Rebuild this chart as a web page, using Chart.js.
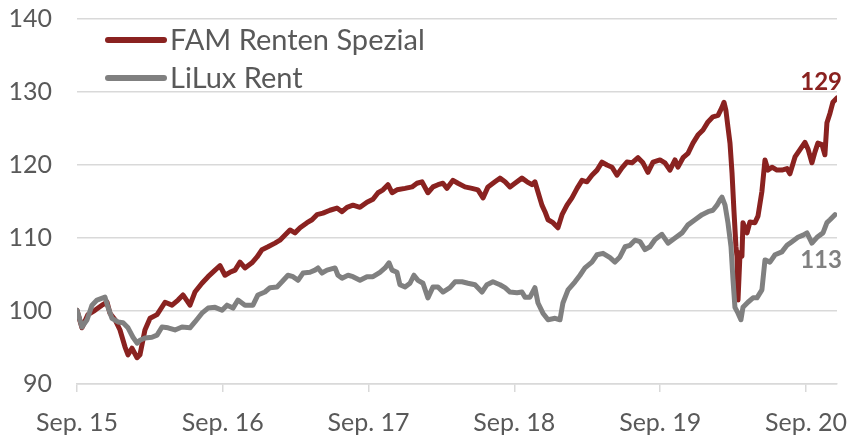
<!DOCTYPE html>
<html><head><meta charset="utf-8">
<script src="https://cdn.jsdelivr.net/npm/chart.js@4"></script>
<style>html,body{margin:0;padding:0;background:#fff}canvas{display:block}</style>
</head><body>
<canvas id="c" width="850" height="436"></canvas>
<script>
// x values: years since Sep. 2015
const seriesNames = ['FAM Renten Spezial', 'LiLux Rent'];
const tickYears = [0, 1, 2, 3, 4, 5];
const tickLabels = ['Sep. 15', 'Sep. 16', 'Sep. 17', 'Sep. 18', 'Sep. 19', 'Sep. 20'];
const endLabels = ['129', '113'];

const famX = [0,0.034,0.075,0.123,0.171,0.206,0.226,0.261,0.295,0.329,0.350,0.377,0.412,0.432,0.466,0.501,0.549,0.604,0.652,0.693,0.727,0.775,0.809,0.857,0.899,0.947,0.981,1.015,1.049,1.084,1.118,1.152,1.200,1.235,1.269,1.310,1.358,1.392,1.427,1.461,1.495,1.530,1.578,1.612,1.646,1.687,1.735,1.783,1.818,1.852,1.893,1.941,1.989,2.030,2.065,2.099,2.133,2.161,2.195,2.250,2.298,2.332,2.366,2.407,2.442,2.476,2.510,2.538,2.579,2.613,2.661,2.709,2.750,2.785,2.819,2.867,2.901,2.936,2.970,3.004,3.052,3.087,3.121,3.141,3.162,3.189,3.210,3.231,3.265,3.299,3.327,3.361,3.395,3.430,3.464,3.498,3.532,3.567,3.601,3.635,3.670,3.704,3.738,3.772,3.807,3.848,3.882,3.916,3.951,3.999,4.033,4.067,4.102,4.122,4.157,4.191,4.225,4.259,4.294,4.328,4.362,4.397,4.424,4.438,4.451,4.465,4.479,4.493,4.506,4.520,4.527,4.534,4.548,4.561,4.568,4.596,4.616,4.650,4.671,4.698,4.719,4.740,4.767,4.801,4.835,4.870,4.890,4.925,4.959,4.993,5.014,5.041,5.062,5.082,5.110,5.130,5.144,5.165,5.185,5.213];
const famY = [100.1,97.7,99.5,100.1,100.8,101.2,99.7,98.8,97.4,95.1,94.0,94.9,93.6,94.0,97.4,99.0,99.5,101.2,100.8,101.5,102.2,100.8,102.6,103.8,104.7,105.6,106.2,104.9,105.3,105.6,106.7,105.9,106.6,107.4,108.4,108.8,109.3,109.7,110.4,111.1,110.7,111.4,112.1,112.5,113.2,113.4,113.8,114.1,113.6,114.2,114.5,114.2,114.9,115.3,116.2,116.6,117.3,116.2,116.6,116.8,117.0,117.5,117.7,116.2,117.0,117.3,117.5,116.8,117.9,117.5,117.0,116.8,116.6,115.5,117.0,117.7,118.2,117.7,117.0,117.5,118.2,117.7,117.3,117.7,116.3,114.5,113.6,112.5,112.1,111.4,113.2,114.5,115.5,116.8,117.9,117.7,118.6,119.3,120.4,120.0,119.7,118.6,119.6,120.4,120.3,121.0,120.3,119.0,120.4,120.7,120.3,119.3,120.7,119.7,121.0,121.6,123.0,124.1,124.8,125.9,126.6,126.8,127.9,128.6,127.5,125.2,123.0,118.9,113.8,108.8,107.5,101.5,108.0,107.5,112.1,110.7,112.2,112.1,113.0,116.4,120.7,119.3,119.7,119.3,119.3,119.5,118.8,121.1,122.1,123.1,122.2,120.3,121.8,123.0,122.8,121.4,125.8,127.1,128.6,129.2];

const luxX = [0,0.034,0.069,0.103,0.137,0.192,0.213,0.240,0.281,0.316,0.350,0.384,0.412,0.432,0.466,0.514,0.549,0.583,0.624,0.672,0.720,0.775,0.809,0.857,0.899,0.947,0.995,1.029,1.070,1.104,1.152,1.207,1.241,1.289,1.324,1.372,1.406,1.447,1.482,1.516,1.550,1.598,1.632,1.653,1.680,1.715,1.770,1.790,1.818,1.859,1.893,1.941,1.989,2.030,2.078,2.113,2.140,2.161,2.195,2.215,2.250,2.284,2.311,2.339,2.373,2.407,2.442,2.476,2.510,2.558,2.593,2.641,2.682,2.730,2.778,2.812,2.853,2.901,2.936,2.970,3.018,3.052,3.073,3.107,3.141,3.162,3.196,3.231,3.279,3.313,3.333,3.368,3.416,3.450,3.484,3.532,3.567,3.608,3.656,3.690,3.724,3.759,3.793,3.827,3.862,3.896,3.930,3.965,4.012,4.054,4.102,4.150,4.191,4.239,4.287,4.328,4.362,4.390,4.410,4.424,4.445,4.465,4.486,4.500,4.513,4.534,4.554,4.568,4.602,4.637,4.664,4.698,4.719,4.753,4.788,4.835,4.870,4.904,4.945,4.980,5.007,5.041,5.076,5.117,5.144,5.165,5.199];
const luxY = [100.1,97.8,98.8,100.8,101.5,101.9,100.5,99.0,98.5,98.4,97.7,96.4,95.6,96.0,96.3,96.4,96.7,97.8,97.7,97.4,97.8,97.7,98.5,99.7,100.4,100.5,100.1,100.8,100.4,101.5,100.8,100.8,102.2,102.6,103.2,103.3,104.0,104.9,104.7,104.2,105.2,105.3,105.6,105.9,105.2,105.6,105.9,104.9,104.5,104.9,104.7,104.2,104.7,104.7,105.3,105.9,106.6,105.6,105.3,103.6,103.3,103.8,104.9,104.2,103.8,101.8,103.3,103.3,102.6,103.2,104.0,104.0,103.8,103.6,102.6,103.6,104.0,103.6,103.2,102.6,102.5,102.6,101.9,101.9,103.2,101.1,99.7,98.8,99.0,98.8,101.1,102.9,104.0,104.9,105.9,106.7,107.7,107.9,107.3,106.7,107.4,108.8,109.0,109.7,109.5,108.4,108.8,109.8,110.5,109.3,110.0,110.7,111.8,112.5,113.2,113.6,113.8,114.5,115.2,115.6,114.5,112.1,108.8,104.2,100.5,99.7,98.8,100.5,101.2,101.8,101.8,102.9,107.0,106.7,107.7,108.1,109.0,109.5,110.1,110.4,110.7,109.3,110.1,110.7,112.1,112.5,113.2];

const yMin = 90, yMax = 140, yStep = 10, xMax = 5.213;
const colors = ['#8a2220', '#808080'];

function pts(xs, ys) {
  const n = Math.min(xs.length, ys.length);
  const out = [];
  for (let i = 0; i < n; i++) out.push({x: xs[i], y: ys[i]});
  return out;
}

const overlay = {
  id: 'overlay',
  afterDatasetsDraw(chart) {
    const ctx = chart.ctx;
    const ca = chart.chartArea;
    ctx.save();
    const rows = [ca.top + 21, ca.top + 59];
    seriesNames.forEach((name, i) => {
      ctx.strokeStyle = colors[i];
      ctx.lineWidth = 6;
      ctx.lineCap = 'round';
      ctx.beginPath();
      ctx.moveTo(ca.left + 31, rows[i]);
      ctx.lineTo(ca.left + 87, rows[i]);
      ctx.stroke();
      ctx.fillStyle = '#595959';
      ctx.font = '29px Lato';
      ctx.textBaseline = 'middle';
      ctx.textAlign = 'left';
      ctx.fillText(name, ca.left + 93, rows[i] + 1);
    });
    const xs = chart.scales.x, ys = chart.scales.y;
    ctx.font = 'bold 24px Lato';
    ctx.textAlign = 'right';
    ctx.textBaseline = 'alphabetic';
    const lastF = famY[famY.length - 1], lastL = luxY[luxY.length - 1];
    ctx.fillStyle = colors[0];
    ctx.fillText(endLabels[0], xs.getPixelForValue(famX[famX.length - 1]) + 5, ys.getPixelForValue(lastF) - 8);
    ctx.fillStyle = colors[1];
    ctx.fillText(endLabels[1], xs.getPixelForValue(luxX[luxX.length - 1]) + 7, ys.getPixelForValue(lastL) + 53);
    ctx.restore();
  }
};

new Chart(document.getElementById('c'), {
  type: 'line',
  data: {
    datasets: [
      {label: seriesNames[1], data: pts(luxX, luxY), borderColor: colors[1], borderWidth: 5, pointRadius: 0, tension: 0, borderJoinStyle: 'round', borderCapStyle: 'round'},
      {label: seriesNames[0], data: pts(famX, famY), borderColor: colors[0], borderWidth: 5, pointRadius: 0, tension: 0, borderJoinStyle: 'round', borderCapStyle: 'round'}
    ]
  },
  options: {
    responsive: false,
    animation: false,
    devicePixelRatio: 1,
    layout: {padding: {top: 19, right: 13, left: 0, bottom: 0}},
    plugins: {legend: {display: false}, tooltip: {enabled: false}},
    scales: {
      x: {
        type: 'linear', min: 0, max: xMax,
        afterBuildTicks: s => { s.ticks = tickYears.map(v => ({value: v})); },
        afterFit: s => { s.height = 52; s.paddingLeft = 0; s.paddingRight = 0; },
        ticks: {callback: (v, i) => tickLabels[i], color: '#595959', font: {family: 'Lato', size: 25}, padding: 16, maxRotation: 0, autoSkip: false},
        grid: {drawOnChartArea: false, drawTicks: true, tickLength: 8, color: '#d9d9d9', lineWidth: 1.5},
        border: {display: true, color: '#d9d9d9', width: 1.5}
      },
      y: {
        min: yMin, max: yMax,
        afterFit: s => { s.width = 77; s.paddingTop = 0; s.paddingBottom = 0; },
        ticks: {stepSize: yStep, color: '#595959', font: {family: 'Lato', size: 25}, padding: 25},
        grid: {color: '#d9d9d9', lineWidth: 1.5, drawTicks: false},
        border: {display: false}
      }
    }
  },
  plugins: [overlay]
});
</script>
</body></html>
